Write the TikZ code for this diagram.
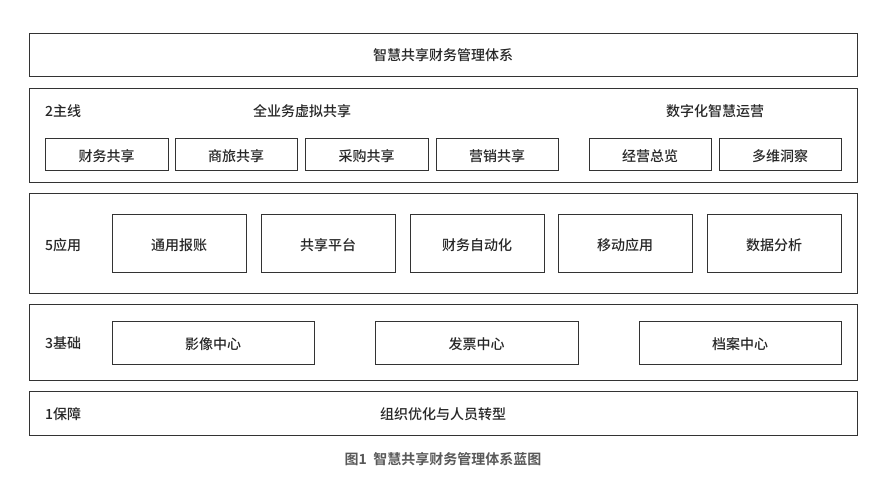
\documentclass[tikz,border=0pt]{standalone}
\usepackage{fontspec}
\setmainfont{Noto Sans CJK SC Medium}[BoldFont={Noto Sans CJK SC Bold}]
\begin{document}
\begin{tikzpicture}[x=1pt,y=-1pt,
  layer/.style={draw=black!80,line width=0.9pt},
  box/.style={draw=black!80,line width=0.9pt},
  txt/.style={font=\fontsize{14}{16}\selectfont,text=black!85,inner sep=0pt,text height=14pt,text depth=0pt},
  lbl/.style={txt,anchor=west}]
\useasboundingbox (0,0) rectangle (882,481);
% layers
\draw[layer] (29,33) rectangle (857,76);
\node[txt] (top) at (443,54) {智慧共享财务管理体系};
\draw[layer] (29,88) rectangle (857,182);
\node[lbl] (l2) at (45,110) {2主线};
\node[txt] (g1) at (302,110) {全业务虚拟共享};
\node[txt] (g2) at (715,110) {数字化智慧运营};
\foreach \a/\b/\t/\n in {45/168/财务共享/a1,175/297/商旅共享/a2,305/428/采购共享/a3,436/558/营销共享/a4,589/711/经营总览/a5,719/841/多维洞察/a6}{
  \draw[box] (\a,138) rectangle (\b,170);
  \node[txt] (\n) at ({(\a+\b)/2},154) {\t};
}
\draw[layer] (29,193) rectangle (857,293);
\node[lbl] (l5) at (45,243) {5应用};
\foreach \a/\b/\t/\n in {112/246/通用报账/b1,261/395/共享平台/b2,410/544/财务自动化/b3,558/692/移动应用/b4,707/841/数据分析/b5}{
  \draw[box] (\a,214) rectangle (\b,272);
  \node[txt] (\n) at ({(\a+\b)/2},243) {\t};
}
\draw[layer] (29,304) rectangle (857,380);
\node[lbl] (l3) at (45,341) {3基础};
\foreach \a/\b/\t/\n in {112/314/影像中心/c1,375/578/发票中心/c2,639/841/档案中心/c3}{
  \draw[box] (\a,321) rectangle (\b,364);
  \node[txt] (\n) at ({(\a+\b)/2},342) {\t};
}
\draw[layer] (29,391) rectangle (857,435);
\node[lbl] (l1) at (45,412) {1保障};
\node[txt] (d1) at (443,412) {组织优化与人员转型};
\node[txt,text=black!65,font=\fontsize{14}{16}\selectfont\bfseries] (cap) at (443,457) {图1\ \ 智慧共享财务管理体系蓝图};
\end{tikzpicture}
\end{document}
